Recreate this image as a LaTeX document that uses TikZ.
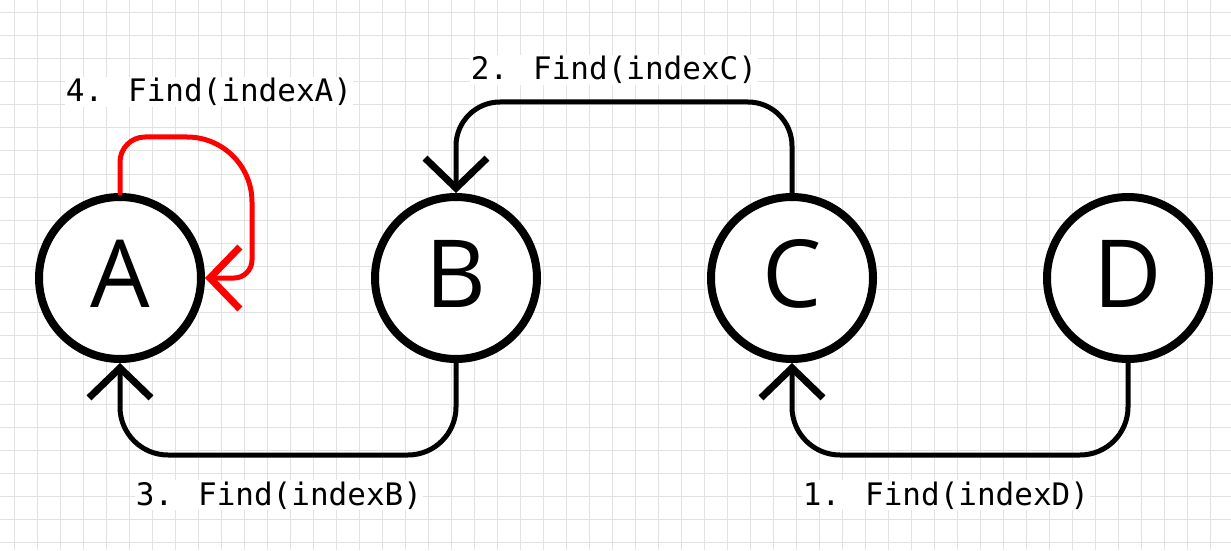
\documentclass[tikz,border=0pt]{standalone}
\usepackage{fontspec}
\setmainfont{Open Sans}
\newfontfamily\monofont{DejaVu Sans Mono}
\usetikzlibrary{arrows.meta}
\definecolor{gridgray}{RGB}{226,226,226}
\definecolor{loopred}{RGB}{255,0,0}
\tikzset{
  vertex/.style={circle, draw=black, line width=8pt, fill=white, minimum size=162pt, inner sep=0pt,
    font=\fontsize{94}{94}\selectfont, text height=67pt, text depth=9pt},
  conn/.style={line width=5pt, line cap=round, line join=round,
    -{Straight Barb[length=30pt, width=62pt, line width=7pt]}},
  lbl/.style={fill=white, inner sep=1pt, anchor=base, font=\monofont\fontsize{31}{31}\selectfont}
}
\begin{document}
\begin{tikzpicture}[x=1pt, y=1pt]
\useasboundingbox (0,0) rectangle (1231,550);
\fill[white] (0,0) rectangle (1231,550);
% grid
\foreach \k in {0,...,52} { \draw[gridgray, line width=1pt] ({14+23*\k},0) -- ({14+23*\k},550); }
\foreach \k in {0,...,23} { \draw[gridgray, line width=1pt] (0,{537-23*\k}) -- (1231,{537-23*\k}); }
% labels
\node[lbl] (l4) at (209,448) {4. Find(indexA)};
\node[lbl] (l2) at (614,470) {2. Find(indexC)};
\node[lbl] (l3) at (279,45) {3. Find(indexB)};
\node[lbl] (l1) at (946,45) {1. Find(indexD)};
% vertices
\node[vertex] (A) at (120,272) {A};
\node[vertex] (B) at (456,272) {B};
\node[vertex] (C) at (792,272) {C};
\node[vertex] (D) at (1128,272) {D};
% connectors
\draw[conn, rounded corners=48pt] (D.south) -- (D.south |- 0,95) -- (C.south |- 0,95) -- (C.south);
\draw[conn, rounded corners=44pt] (C.north) -- (C.north |- 0,448) -- (B.north |- 0,448) -- (B.north);
\draw[conn, rounded corners=48pt] (B.south) -- (B.south |- 0,95) -- (A.south |- 0,95) -- (A.south);
\draw[conn, loopred] (A.north) -- (120,388) arc[start angle=180, end angle=90, radius=25]
  -- (187,413) arc[start angle=90, end angle=0, radius=65]
  -- (252,290) arc[start angle=0, end angle=-90, radius=18]
  -- (A.east);
\end{tikzpicture}
\end{document}
